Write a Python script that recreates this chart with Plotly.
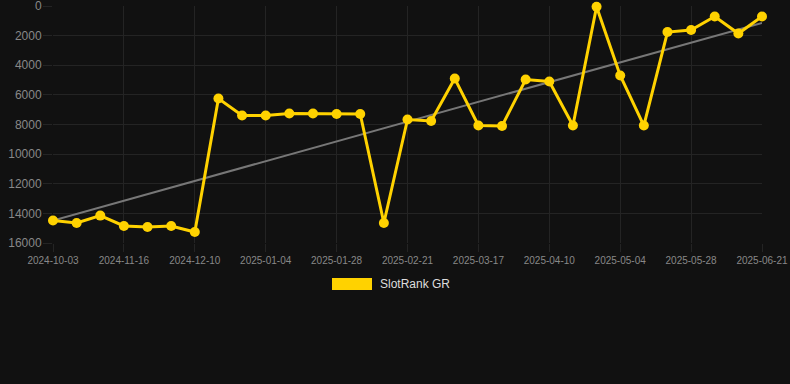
import numpy as np
import plotly.graph_objects as go

dates = [
    "2024-10-03", "2024-10-31", "2024-11-08", "2024-11-16", "2024-11-24", "2024-12-02",
    "2024-12-10", "2024-12-18", "2024-12-27", "2025-01-04", "2025-01-12", "2025-01-20",
    "2025-01-28", "2025-02-05", "2025-02-13", "2025-02-21", "2025-03-01", "2025-03-09",
    "2025-03-17", "2025-03-25", "2025-04-02", "2025-04-10", "2025-04-18", "2025-04-26",
    "2025-05-04", "2025-05-12", "2025-05-20", "2025-05-28", "2025-06-05", "2025-06-13",
    "2025-06-21",
]
ranks = [
    14480, 14650, 14150, 14850, 14920, 14850, 15260,
    6250, 7390, 7390, 7260, 7260, 7290, 7290,
    14650, 7660, 7760, 4900, 8070, 8100, 4960,
    5100, 8070, 50, 4690, 8070, 1760, 1620,
    710, 1860, 710,
]
series_name = "SlotRank GR"
y_ticks = [0, 2000, 4000, 6000, 8000, 10000, 12000, 14000, 16000]
x_ticks = dates[::3]

idx = np.arange(len(ranks))
slope, intercept = np.polyfit(idx, ranks, 1)
trend = slope * idx + intercept

GOLD = "#FFD200"
BG = "#111111"
GRID = "#242424"
FONT = "Liberation Sans, Arial, sans-serif"

L, R, T, B = 53, 28, 6, 141
PW = 790 - L - R
PH = 384 - T - B

fig = go.Figure()
fig.add_trace(go.Scatter(
    x=dates, y=trend, mode="lines",
    line=dict(color="#777777", width=2),
    hoverinfo="skip", showlegend=False, cliponaxis=False,
))
fig.add_trace(go.Scatter(
    x=dates, y=ranks, mode="lines+markers", name=series_name,
    line=dict(color=GOLD, width=3),
    marker=dict(color=GOLD, size=10),
    showlegend=False, cliponaxis=False,
))

fig.update_layout(
    width=790, height=384,
    paper_bgcolor=BG, plot_bgcolor=BG,
    margin=dict(l=L, r=R, t=T, b=B),
    font=dict(family=FONT, color="#888888", size=11),
    showlegend=False,
)
fig.update_xaxes(
    type="category", categoryorder="array", categoryarray=dates,
    range=[0, len(dates) - 1],
    tickmode="array", tickvals=x_ticks, ticktext=x_ticks,
    showgrid=True, gridcolor=GRID, gridwidth=1,
    ticks="outside", ticklen=8, tickcolor=GRID,
    tickfont=dict(size=10, color="#888888"),
    zeroline=False, showline=False, tickangle=0,
    ticklabeloverflow="allow", automargin=False,
)
fig.update_yaxes(
    range=[16000, 0], tickmode="array", tickvals=y_ticks,
    ticktext=[str(v) for v in y_ticks],
    showgrid=True, gridcolor=GRID, gridwidth=1,
    ticks="outside", ticklen=9, tickcolor=GRID,
    ticklabelstandoff=-1,
    tickfont=dict(size=12, color="#888888"),
    zeroline=False, showline=False,
    ticklabeloverflow="allow", automargin=False,
)

# legend drawn manually: filled swatch + label
fig.add_shape(type="rect", xref="paper", yref="paper",
              x0=(332 - L) / PW, x1=(372 - L) / PW,
              y0=(PH + T - 290) / PH, y1=(PH + T - 278) / PH,
              fillcolor=GOLD, line=dict(width=0))
fig.add_annotation(xref="paper", yref="paper",
                   x=(378 - L) / PW, y=(PH + T - 284) / PH,
                   xanchor="left", yanchor="middle", showarrow=False,
                   text=series_name, font=dict(family=FONT, size=12, color="#DDDDDD"))

fig.write_html(
    "out.html",
    config={"displayModeBar": False},
    post_script="document.body.style.margin='0';document.body.style.overflow='hidden';",
)
